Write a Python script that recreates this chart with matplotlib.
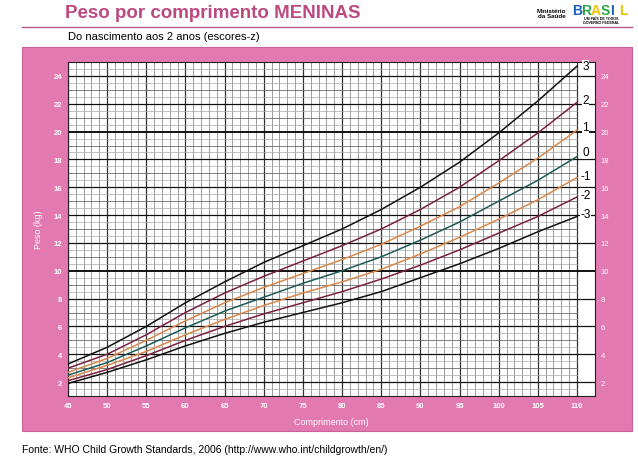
import numpy as np
import matplotlib.pyplot as plt
from matplotlib.patches import Rectangle

plt.rcParams['font.family'] = ['Liberation Sans', 'DejaVu Sans']

# comprimento (cm) e peso (kg) por escore-z
comprimento = [45, 50, 55, 60, 65, 70, 75, 80, 85, 90, 95, 100, 105, 110]
z_p3 = [3.3, 4.5, 6.0, 7.7, 9.2, 10.6, 11.8, 13.0, 14.4, 16.0, 17.8, 19.9, 22.2, 24.7]
z_p2 = [3.0, 4.0, 5.4, 7.0, 8.4, 9.6, 10.7, 11.8, 13.0, 14.4, 16.0, 17.9, 19.9, 22.1]
z_p1 = [2.7, 3.7, 5.0, 6.4, 7.7, 8.8, 9.8, 10.8, 11.9, 13.2, 14.6, 16.3, 18.1, 20.1]
z_0 = [2.5, 3.4, 4.6, 5.9, 7.1, 8.1, 9.1, 10.0, 11.0, 12.2, 13.5, 15.0, 16.5, 18.2]
z_m1 = [2.3, 3.2, 4.2, 5.4, 6.5, 7.5, 8.4, 9.2, 10.1, 11.2, 12.4, 13.7, 15.1, 16.7]
z_m2 = [2.1, 2.9, 3.9, 5.0, 6.0, 6.9, 7.7, 8.5, 9.4, 10.4, 11.5, 12.7, 13.9, 15.3]
z_m3 = [1.9, 2.7, 3.6, 4.6, 5.5, 6.3, 7.0, 7.7, 8.5, 9.5, 10.5, 11.6, 12.8, 13.9]

curvas = [z_p3, z_p2, z_p1, z_0, z_m1, z_m2, z_m3]
rotulos = ['3', '2', '1', '0', '-1', '-2', '-3']
desloc = [0.0, 0.2, 0.25, 0.3, 0.1, 0.15, 0.15]
cores = ['#111111', '#7a2040', '#d8874a', '#1d5a55', '#d8874a', '#7a2040', '#111111']

x_ticks = list(range(45, 111, 5))
y_ticks = list(range(2, 25, 2))

rosa = '#e279b0'

fig = plt.figure(figsize=(6.38, 4.6), dpi=100)
fig.patch.set_facecolor('white')

# painel rosa
fig.patches.append(Rectangle((22 / 638, 1 - 432 / 460), 610 / 638, 384 / 460,
                             transform=fig.transFigure, facecolor=rosa,
                             edgecolor='#c9609a', lw=0.8, zorder=-5))

# titulo
fig.text(65 / 638, 1 - 13 / 460, 'Peso por comprimento MENINAS', fontsize=13.5,
         fontweight='bold', color='#bb4a80', va='center')
fig.add_artist(plt.Line2D([22 / 638, 632 / 638], [1 - 28 / 460, 1 - 28 / 460],
                          transform=fig.transFigure, color='#b25a85', lw=1))
fig.text(68 / 638, 1 - 37 / 460, 'Do nascimento aos 2 anos (escores-z)',
         fontsize=8, va='center')

# logo (aproximado)
fig.text(566 / 638, 1 - 14 / 460, 'Ministério\nda Saúde', fontsize=4.5,
         fontweight='bold', ha='right', va='center', linespacing=1.0)
bx = 572
for letra, cor in zip('BRASIL', ['#1d5fbf', '#2aa54a', '#f2c200', '#2aa54a', '#1d5fbf', '#f2c200']):
    fig.text(bx / 638, 1 - 11 / 460, letra, fontsize=10, fontweight='bold',
             color=cor, va='center')
    bx += 9.5
fig.text(601 / 638, 1 - 21 / 460, 'UM PAÍS DE TODOS\nGOVERNO FEDERAL', fontsize=2.6,
         fontweight='bold', ha='center', va='center', linespacing=1.0)

ax = fig.add_axes([68 / 638, 1 - 397 / 460, 527 / 638, 334 / 460])
ax.set_zorder(2)
ax.set_facecolor('white')
ax.set_xlim(45, 112.3)
ax.set_ylim(1, 25)

# grade
for v in np.arange(45, 110.01, 1):
    if v % 5 == 0:
        c, w = '#333333', 0.9
    else:
        c, w = '#8c8c8c', 0.6
    ax.plot([v, v], [1, 25], color=c, lw=w, zorder=1)
for h in np.arange(1, 25.01, 0.5):
    if h % 2 == 0:
        continue
    c, w = ('#6a6a6a', 0.6) if h % 1 == 0 else ('#a8a8a8', 0.5)
    ax.plot([45, 110], [h, h], color=c, lw=w, zorder=1)
for h in y_ticks:
    ax.axhline(h, color='#111111', lw=1.4 if h in (10, 20) else 0.9, zorder=1)

for ys, cor in zip(curvas, cores):
    ax.plot(comprimento, ys, color=cor, lw=1.1, zorder=3,
            solid_joinstyle='round')

for ys, rot, d in zip(curvas, rotulos, desloc):
    ax.text(111.1, ys[-1] + d, rot, fontsize=8.5, ha='center', va='center',
            zorder=4, bbox=dict(facecolor='white', edgecolor='none', pad=0.3))

ax.set_xticks(x_ticks)
ax.set_yticks(y_ticks)
ax.tick_params(length=0, labelsize=5.5, labelcolor='white', pad=4)
for lb in ax.get_xticklabels() + ax.get_yticklabels():
    lb.set_fontweight('bold')
ax.tick_params(axis='y', right=True, labelright=True, pad=4)
for s in ax.spines.values():
    s.set_color('#222222')
    s.set_linewidth(0.8)

ax.set_xlabel('Comprimento (cm)', color='white', fontsize=6.5, labelpad=6)
ax.set_ylabel('Peso (kg)', color='white', fontsize=6.5, labelpad=8)

fig.text(22 / 638, 1 - 450 / 460,
         'Fonte: WHO Child Growth Standards, 2006 (http://www.who.int/childgrowth/en/)',
         fontsize=7.5, va='center')

fig.savefig('out.png', dpi=100)
